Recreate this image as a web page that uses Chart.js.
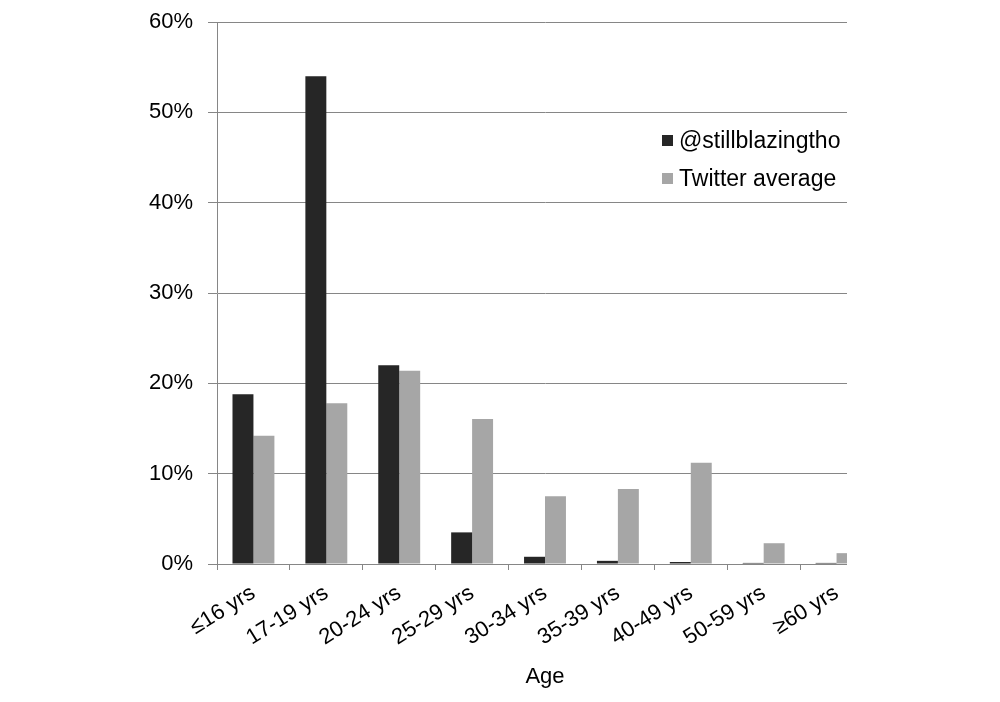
<!DOCTYPE html>
<html>
<head>
<meta charset="utf-8">
<script src="https://cdn.jsdelivr.net/npm/chart.js@4"></script>
<style>
  body { margin: 0; background: #fff; }
  #wrap { position: relative; width: 1000px; height: 702px; }
  #legend { position: absolute; left: 662px; top: 126px; font-family: "Liberation Sans", Arial, sans-serif; font-size: 23px; color: #000; }
  #legend div { height: 38px; line-height: 28px; white-space: nowrap; }
  #legend span.box { display: inline-block; width: 11px; height: 11px; margin-right: 6px; vertical-align: 2px; }
</style>
</head>
<body>
<div id="wrap">
  <canvas id="chart" width="1000" height="702"></canvas>
  <div id="legend"></div>
</div>
<script>
// age buckets and share of followers (%)
const ageLabels = ['≤16 yrs', '17-19 yrs', '20-24 yrs', '25-29 yrs', '30-34 yrs', '35-39 yrs', '40-49 yrs', '50-59 yrs', '≥60 yrs'];
const accountShare = [18.8, 54.0, 22.0, 3.5, 0.8, 0.35, 0.22, 0.12, 0.12];
const twitterAverage = [14.2, 17.8, 21.4, 16.05, 7.5, 8.3, 11.2, 2.3, 1.2];
const seriesNames = ['@stillblazingtho', 'Twitter average'];
const colors = ['#262626', '#a6a6a6'];

const FONT = '"Liberation Sans", Arial, sans-serif';
const CLIP_X = 846; // the original chart is cut off on the right

// paint over everything right of the visible plot edge
const clipRight = {
    id: 'clipRight',
    afterDatasetsDraw(chart) {
        const ctx = chart.ctx;
        ctx.save();
        ctx.fillStyle = '#fff';
        ctx.fillRect(CLIP_X + 1, 0, chart.width - CLIP_X, chart.chartArea.bottom + 10);
        ctx.restore();
    }
};

new Chart(document.getElementById('chart'), {
    type: 'bar',
    data: {
        labels: ageLabels,
        datasets: [
            { label: seriesNames[0], data: accountShare, backgroundColor: colors[0], categoryPercentage: 0.575, barPercentage: 1 },
            { label: seriesNames[1], data: twitterAverage, backgroundColor: colors[1], categoryPercentage: 0.575, barPercentage: 1 }
        ]
    },
    options: {
        responsive: false,
        animation: false,
        layout: { padding: { left: 0, right: 127, top: 22, bottom: 0 } },
        plugins: {
            legend: { display: false },
            tooltip: { enabled: false }
        },
        scales: {
            y: {
                min: 0, max: 60,
                ticks: { stepSize: 10, color: '#000', font: { family: FONT, size: 22 }, padding: 15, callback: v => v + '%' },
                grid: { color: '#868686', lineWidth: 1, tickLength: 9, drawTicks: true },
                border: { color: '#868686' },
                afterFit: s => { s.width = 217; s.paddingTop = 0; s.paddingBottom = 0; }
            },
            x: {
                ticks: { color: '#000', font: { family: FONT, size: 22 }, minRotation: 32, maxRotation: 32, padding: 10 },
                grid: { display: true, drawOnChartArea: false, color: '#868686', tickLength: 6, offset: true },
                border: { color: '#868686' },
                title: { display: true, text: 'Age', color: '#000', font: { family: FONT, size: 22 }, padding: { top: 0, bottom: 12 } },
                afterFit: s => { s.height = 702 - 564; }
            }
        }
    },
    plugins: [clipRight]
});

// legend
const legend = document.getElementById('legend');
seriesNames.forEach((name, i) => {
    const row = document.createElement('div');
    const box = document.createElement('span');
    box.className = 'box';
    box.style.background = colors[i];
    row.appendChild(box);
    row.appendChild(document.createTextNode(name));
    legend.appendChild(row);
});
</script>
</body>
</html>
